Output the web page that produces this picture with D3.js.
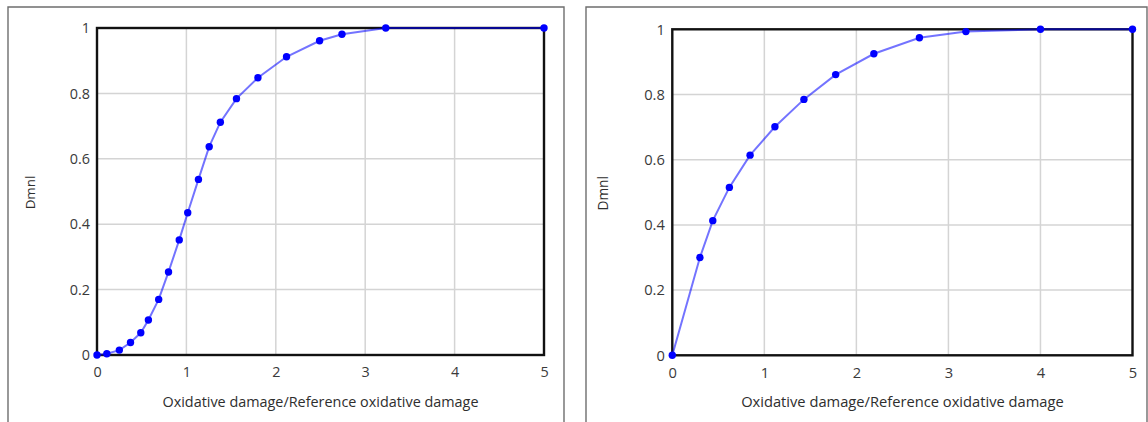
<!DOCTYPE html>
<html>
<head>
<meta charset="utf-8">
<script src="https://cdn.jsdelivr.net/npm/d3@7"></script>
<style>
  html, body { margin: 0; padding: 0; background: #fff; }
  svg { display: block; font-family: "Open Sans", "Noto Sans", sans-serif; }
</style>
</head>
<body>
<svg id="chart" width="1148" height="422"></svg>
<script>
// Lookup curve 1: sigmoid response to relative oxidative damage
const leftX = [0, 0.11, 0.25, 0.375, 0.49, 0.575, 0.69, 0.8, 0.92, 1.015, 1.135, 1.255, 1.38, 1.56, 1.8, 2.12, 2.49, 2.74, 3.23, 5];
const leftY = [0, 0.004, 0.015, 0.038, 0.068, 0.107, 0.17, 0.254, 0.352, 0.435, 0.537, 0.637, 0.712, 0.784, 0.848, 0.912, 0.961, 0.981, 1, 1];

// Lookup curve 2: saturating response to relative oxidative damage
const rightX = [0, 0.3, 0.44, 0.62, 0.845, 1.115, 1.43, 1.775, 2.19, 2.685, 3.19, 4, 5];
const rightY = [0, 0.3, 0.413, 0.515, 0.614, 0.701, 0.785, 0.861, 0.925, 0.974, 0.993, 1, 1];

const xTicks = [0, 1, 2, 3, 4, 5];
const yTicks = [0, 0.2, 0.4, 0.6, 0.8, 1];
const yTickLabels = ["0", "0.2", "0.4", "0.6", "0.8", "1"];
const xTitle = "Oxidative damage/Reference oxidative damage";
const yTitle = "Dmnl";

const svg = d3.select("#chart");

function drawPanel(p) {
  const { xs, ys, box, plot, fontSize } = p;
  const g = svg.append("g");

  // panel frame (open at the bottom edge of the view)
  g.append("path")
    .attr("d", `M${box.x0},422 V${box.y0} H${box.x1} V422`)
    .attr("fill", "none")
    .attr("stroke", "#6e6e6e")
    .attr("stroke-width", 1.4);

  const x = d3.scaleLinear().domain([0, 5]).range([plot.x0, plot.x1]);
  const y = d3.scaleLinear().domain([0, 1]).range([plot.y1, plot.y0]);

  // grid
  g.append("g").selectAll("line.vx")
    .data(xTicks.slice(1, -1)).join("line")
    .attr("x1", d => x(d)).attr("x2", d => x(d))
    .attr("y1", plot.y0).attr("y2", plot.y1)
    .attr("stroke", "#d4d4d4").attr("stroke-width", 1.5);
  g.append("g").selectAll("line.hy")
    .data(yTicks.slice(1, -1)).join("line")
    .attr("x1", plot.x0).attr("x2", plot.x1)
    .attr("y1", d => y(d)).attr("y2", d => y(d))
    .attr("stroke", "#d4d4d4").attr("stroke-width", 1.5);

  // plot frame
  g.append("rect")
    .attr("x", plot.x0).attr("y", plot.y0)
    .attr("width", plot.x1 - plot.x0).attr("height", plot.y1 - plot.y0)
    .attr("fill", "none").attr("stroke", "#111").attr("stroke-width", 2.4);

  // tick labels via d3 axes (domain and tick marks hidden)
  const xAxis = g.append("g")
    .attr("transform", `translate(0,${plot.y1})`)
    .call(d3.axisBottom(x).tickValues(xTicks).tickFormat(d3.format("d")).tickSize(0).tickPadding(p.xPad));
  const yAxis = g.append("g")
    .attr("transform", `translate(${plot.x0},0)`)
    .call(d3.axisLeft(y).tickValues(yTicks).tickFormat((d, i) => yTickLabels[i]).tickSize(0).tickPadding(p.yPad));
  [xAxis, yAxis].forEach(a => {
    a.select(".domain").remove();
    a.selectAll("text")
      .attr("fill", "#3a3a3a")
      .style("font-size", fontSize + "px")
      .style("font-family", "\"Open Sans\", \"Noto Sans\", sans-serif");
  });

  // titles
  g.append("text")
    .attr("x", (plot.x0 + plot.x1) / 2)
    .attr("y", p.xTitleY)
    .attr("text-anchor", "middle")
    .attr("fill", "#2e2e2e")
    .style("font-size", fontSize + "px")
    .text(xTitle);
  g.append("text")
    .attr("transform", `translate(${p.yTitleX},${(plot.y0 + plot.y1) / 2 + 1}) rotate(-90)`)
    .attr("text-anchor", "middle")
    .attr("fill", "#2e2e2e")
    .style("font-size", (fontSize - 1) + "px")
    .text(yTitle);

  // curve and points
  const pts = xs.map((v, i) => [v, ys[i]]);
  g.append("path")
    .datum(pts)
    .attr("d", d3.line().x(d => x(d[0])).y(d => y(d[1])))
    .attr("fill", "none")
    .attr("stroke", "#0000ff")
    .attr("stroke-opacity", 0.55)
    .attr("stroke-width", 2);
  g.append("g").selectAll("circle")
    .data(pts).join("circle")
    .attr("cx", d => x(d[0])).attr("cy", d => y(d[1]))
    .attr("r", 3.7)
    .attr("fill", "#0000ff");
}

drawPanel({
  xs: leftX, ys: leftY,
  box: { x0: 8, y0: 7, x1: 564 },
  plot: { x0: 97, x1: 544, y0: 28, y1: 355 },
  fontSize: 14.4, xPad: 12, yPad: 7, xTitleY: 407, yTitleX: 35
});

drawPanel({
  xs: rightX, ys: rightY,
  box: { x0: 586, y0: 7, x1: 1147 },
  plot: { x0: 672.3, x1: 1132.5, y0: 29.3, y1: 355.3 },
  fontSize: 14.7, xPad: 12, yPad: 7.5, xTitleY: 407, yTitleX: 608
});
</script>
</body>
</html>
